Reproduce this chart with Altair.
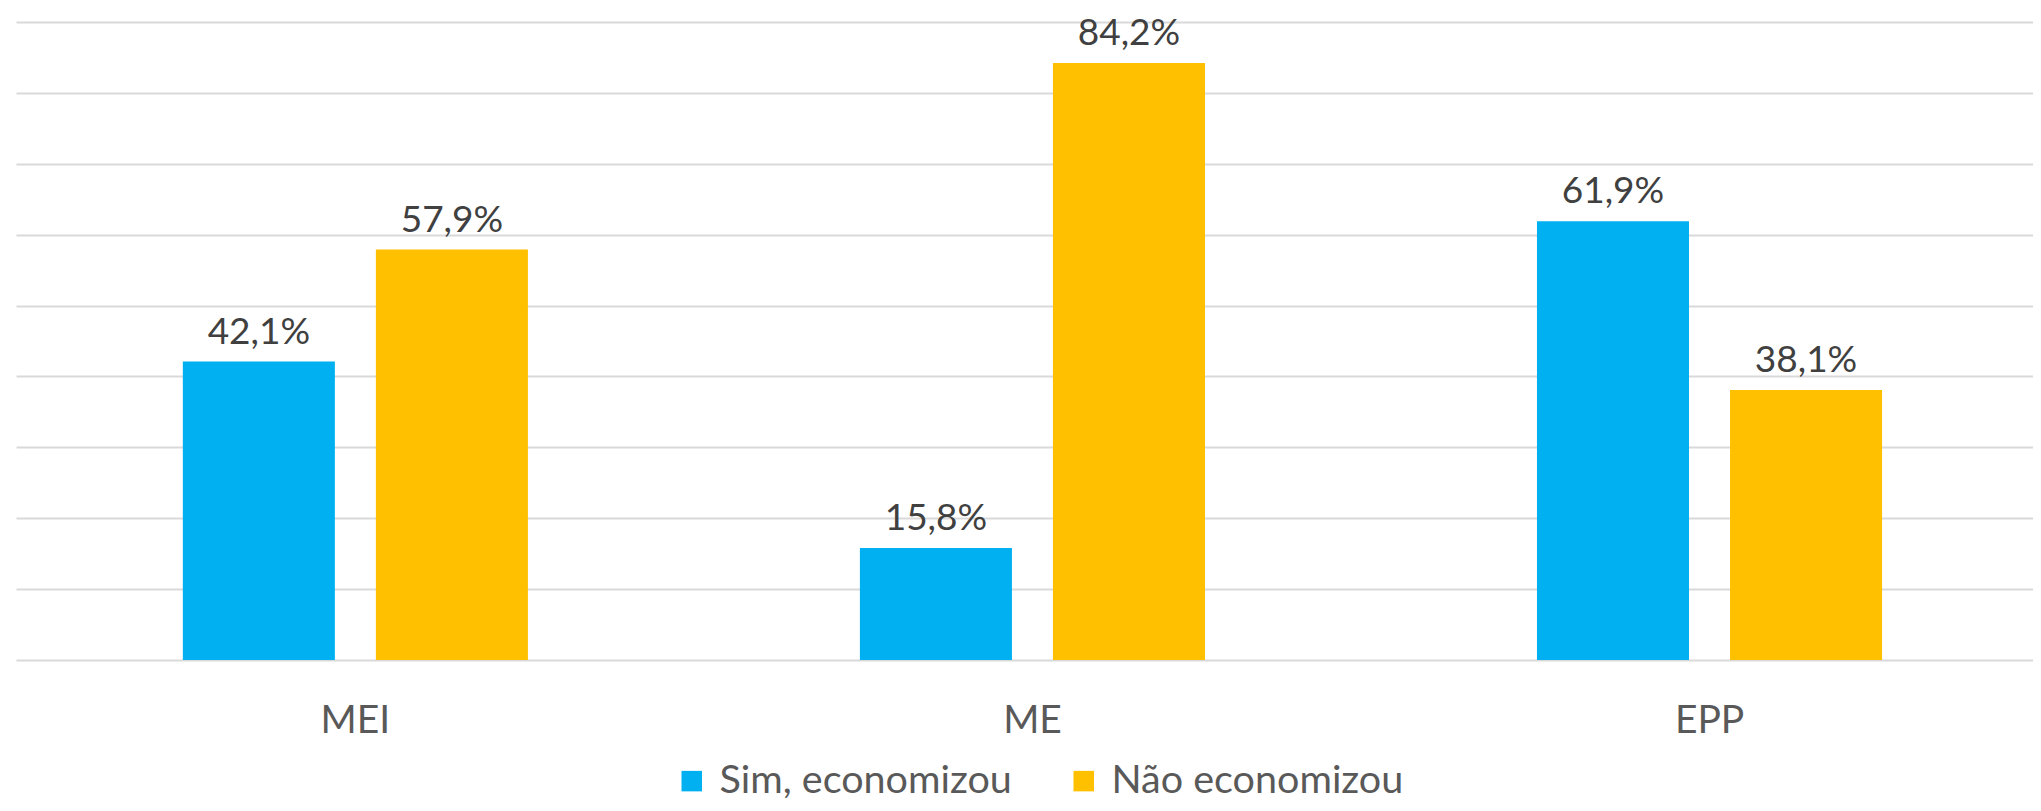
import altair as alt
import pandas as pd

categories = ["MEI", "ME", "EPP"]
series = ["Sim, economizou", "Não economizou"]
sim_values = [42.1, 15.8, 61.9]
nao_values = [57.9, 84.2, 38.1]
colors = ["#00B0F0", "#FFC000"]
y_ticks = [0, 10, 20, 30, 40, 50, 60, 70, 80, 90]

rows = []
for i, c in enumerate(categories):
    for s, vals in zip(series, [sim_values, nao_values]):
        v = vals[i]
        rows.append({"cat": c, "serie": s, "valor": v,
                     "rotulo": f"{v:.1f}".replace(".", ",") + "%"})
df = pd.DataFrame(rows)

FONT = "Lato"

base = alt.Chart(df).encode(
    x=alt.X("cat:N", sort=categories,
            scale=alt.Scale(paddingInner=0.021, paddingOuter=0),
            axis=alt.Axis(title=None, labelAngle=0, ticks=False, domain=False,
                          labelFontSize=39, labelFont=FONT, labelColor="#595959",
                          labelBaseline="middle", labelPadding=60, labelOffset=8)),
    xOffset=alt.XOffset("serie:N", sort=series,
                        scale=alt.Scale(paddingInner=0.2124, paddingOuter=0.823,
                                        align=0.525)),
    y=alt.Y("valor:Q", scale=alt.Scale(domain=[0, 90], nice=False),
            axis=alt.Axis(title=None, labels=False, ticks=False, domain=False,
                          values=y_ticks, grid=True, gridColor="#d9d9d9",
                          gridWidth=2)),
)

bars = base.mark_bar().encode(
    color=alt.Color("serie:N", sort=series,
                    scale=alt.Scale(domain=series, range=colors),
                    legend=alt.Legend(title=None, orient="none", direction="horizontal",
                                      legendX=656, legendY=739,
                                      symbolType="square", symbolSize=420,
                                      symbolStrokeWidth=0,
                                      labelFontSize=39.5, labelFont=FONT,
                                      labelColor="#595959", labelOffset=8,
                                      labelLimit=0,
                                      columnPadding=52, padding=0))
)

labels = base.mark_text(baseline="middle", dy=-29, fontSize=37, font=FONT,
                        color="#404040").encode(text="rotulo:N")

chart = (bars + labels).properties(
    width=2017, height=638,
    padding={"left": 8, "top": 14, "right": 0, "bottom": 143},
    autosize=alt.AutoSizeParams(type="none"),
    background="white",
).configure_view(stroke=None)

chart.save("out.html", embed_options={"renderer": "svg", "actions": False})
